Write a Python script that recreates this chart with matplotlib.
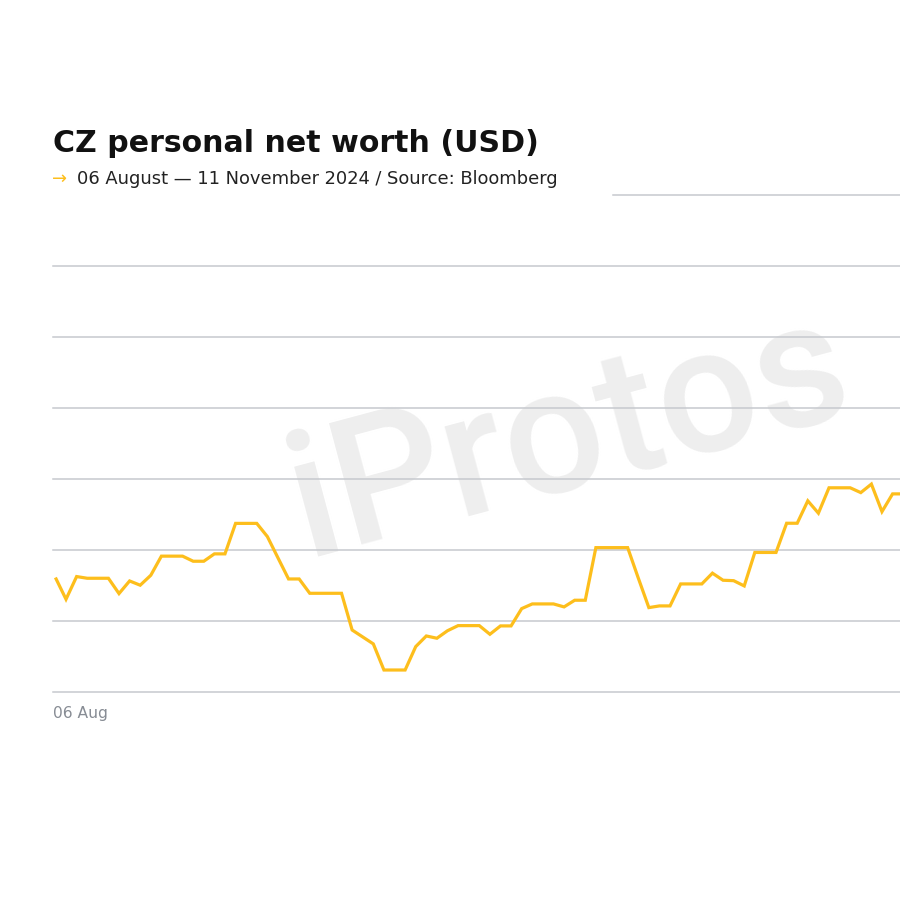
import matplotlib
matplotlib.use('Agg')
import matplotlib.pyplot as plt
import matplotlib.dates as mdates
import matplotlib.transforms as mtransforms
import pandas as pd

# ---------------- data ----------------
dates = pd.date_range('2024-08-06', '2024-10-25', freq='D')
net_worth_bn = [
    48.05, 46.52, 48.12, 48.00, 48.00, 48.00, 46.92, 47.81, 47.51, 48.21,
    49.56, 49.56, 49.56, 49.20, 49.20, 49.72, 49.72, 51.87, 51.87, 51.87,
    50.94, 49.44, 47.95, 47.95, 46.94, 46.94, 46.94, 46.94, 44.35, 43.86,
    43.37, 41.53, 41.53, 41.53, 43.18, 43.93, 43.77, 44.30, 44.66, 44.66,
    44.66, 44.05, 44.64, 44.64, 45.86, 46.19, 46.19, 46.19, 45.98, 46.45,
    46.45, 50.16, 50.16, 50.16, 50.16, 48.02, 45.93, 46.05, 46.05, 47.60,
    47.60, 47.60, 48.36, 47.86, 47.83, 47.46, 49.82, 49.82, 49.82, 51.88,
    51.88, 53.46, 52.59, 54.38, 54.38, 54.38, 54.04, 54.64, 52.70, 53.95,
    53.95,
]
grid_levels = [40, 45, 50, 55, 60, 65, 70]
top_level = 75
tick_labels = ['06 Aug']
title = 'CZ personal net worth (USD)'
subtitle = '06 August \u2014 11 November 2024 / Source: Bloomberg'
watermark = 'iProtos'

LINE = '#FDBE1C'
GRID = '#C6C9CE'
FONT = ['DejaVu Sans']

# ---------------- figure ----------------
fig = plt.figure(figsize=(9, 9), dpi=100)
fig.patch.set_facecolor('white')

W = H = 900.0
left_px, right_px = 53.3, 900.0
bottom_px, top_px = 691.7, 195.4
ax = fig.add_axes([left_px / W, 1 - bottom_px / H,
                   (right_px - left_px) / W, (bottom_px - top_px) / H])
ax.set_facecolor('none')

x0 = mdates.date2num(dates[0])
ax.set_xlim(x0 - 0.2, x0 + 79.7)
ax.set_ylim(grid_levels[0], top_level)

for g in grid_levels:
    ax.axhline(g, color=GRID, lw=1.1, zorder=1, clip_on=False)
ax.axhline(top_level, xmin=(613 - left_px) / (right_px - left_px), xmax=1,
           color=GRID, lw=1.1, zorder=1, clip_on=False)

ax.plot(dates, net_worth_bn, color=LINE, lw=2.3, zorder=3,
        solid_joinstyle='miter', solid_capstyle='butt')

for s in ax.spines.values():
    s.set_visible(False)
ax.set_yticks([])
ax.set_xticks([dates[0]], labels=tick_labels)
ax.tick_params(axis='x', length=0, pad=10, labelsize=11.2, labelcolor='#878C94')
shift = mtransforms.ScaledTranslation(-2 / 100, 0, fig.dpi_scale_trans)
for lab in ax.get_xticklabels():
    lab.set_horizontalalignment('left')
    lab.set_family(FONT)
    lab.set_transform(lab.get_transform() + shift)

# watermark
fig.text(0.632, 0.515, watermark, rotation=15, ha='center', va='center',
         fontsize=127, color='#EEEEEE', family=['Roboto', 'DejaVu Sans'],
         fontweight='medium', zorder=-5)

# title & subtitle
fig.text(53 / W, 1 - 152 / H, title, ha='left', va='baseline',
         fontsize=21.6, fontweight='bold', color='#111111', family=FONT)
fig.text(52 / W, 1 - 183.5 / H, '\u2192', ha='left', va='baseline',
         fontsize=12.9, color=LINE, family=FONT)
fig.text(77 / W, 1 - 183.5 / H, subtitle, ha='left', va='baseline',
         fontsize=12.9, color='#222222', family=FONT)

fig.savefig('out.png', dpi=100, facecolor='white')
